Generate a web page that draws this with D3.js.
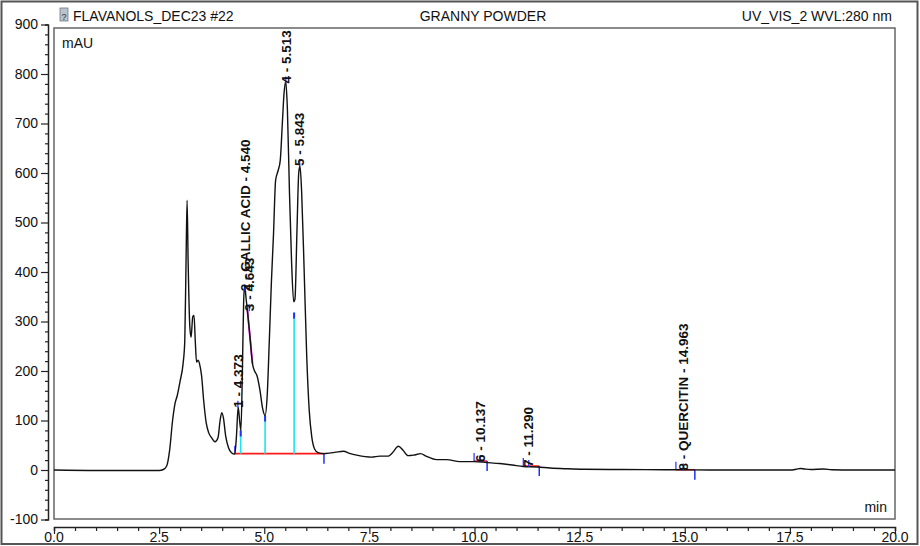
<!DOCTYPE html>
<html>
<head>
<meta charset="utf-8">
<script src="https://cdn.jsdelivr.net/npm/d3@7"></script>
<style>
  body { margin: 0; background: #fff; }
  svg { display: block; font-family: "Liberation Sans", Arial, sans-serif; }
</style>
</head>
<body>
<svg id="chart" width="920" height="546"></svg>
<script>
// chromatogram trace (time in min, signal in mAU)
var times = [0.0, 1.0, 2.0, 2.5, 2.6, 2.68, 2.75, 2.82, 2.88, 2.93, 3.0, 3.07, 3.11, 3.14, 3.165,
  3.19, 3.23, 3.26, 3.30, 3.33, 3.36, 3.39, 3.43, 3.46, 3.51, 3.56, 3.62, 3.68, 3.75, 3.83,
  3.90, 3.95, 3.99, 4.03, 4.08, 4.15, 4.22, 4.30, 4.34, 4.38, 4.42, 4.445, 4.48, 4.51, 4.535,
  4.57, 4.60, 4.66, 4.72, 4.77, 4.83, 4.90, 4.96, 5.02, 5.07, 5.12, 5.17, 5.22, 5.27, 5.33,
  5.38, 5.43, 5.47, 5.51, 5.55, 5.60, 5.65, 5.70, 5.73, 5.78, 5.82, 5.85, 5.89, 5.95, 6.01,
  6.07, 6.13, 6.20, 6.28, 6.40, 6.55, 6.70, 6.88, 7.05, 7.20, 7.40, 7.55, 7.75, 7.95, 8.05,
  8.19, 8.30, 8.42, 8.55, 8.72, 8.85, 9.1, 9.34, 9.65, 9.99, 10.3, 10.6, 10.9, 11.16, 11.5,
  11.8, 12.2, 12.6, 13.5, 14.5, 15.2, 16.0, 17.5, 17.65, 17.75, 17.85, 18.0, 18.3, 18.5, 19.0, 20.0];
var mau = [0, -1, -1, -1, 1, 8, 40, 100, 135, 150, 180, 215, 260, 420, 545,
  420, 290, 268, 310, 312, 260, 218, 222, 215, 190, 140, 95, 75, 65, 57,
  65, 100, 116, 105, 70, 45, 35, 32, 70, 127, 95, 80, 200, 340, 372,
  345, 322, 270, 215, 200, 190, 160, 125, 110, 150, 260, 380, 476, 585, 605,
  625, 700, 760, 785, 730, 560, 420, 340, 345, 490, 600, 614, 560, 400, 230,
  120, 67, 42, 35, 33, 34, 36, 38, 33, 30, 27, 26, 28, 28, 35,
  48, 40, 29, 30, 33, 28, 21, 21, 17, 17, 15, 13, 10, 7, 6,
  4, 2.5, 1.5, 1, 0.5, 0.3, 0, 0, 1.5, 3, 2, 1, 2, 0.5, 0, 0];

// peak labels
var peakNames = ['1 - 4.373', '2 - GALLIC ACID - 4.540', '3 - 4.643', '4 - 5.513',
  '5 - 5.843', '6 - 10.137', '7 - 11.290', '8 - QUERCITIN - 14.963'];
var peakTimes = [4.373, 4.540, 4.643, 5.513, 5.843, 10.137, 11.290, 14.963];
var peakHeights = [130, 365, 325, 785, 618, 20, 10, 3];

// integration baselines
var baseStart = [4.30, 9.99, 11.16, 14.79];
var baseEnd = [6.42, 10.30, 11.54, 15.24];
var baseLevel = [33, 18, 8, 0.5];
var dropTimes = [4.44, 5.02, 5.71];
var dropHeights = [80, 110, 318];
var skimTimes = [4.60, 4.72];
var skimValues = [322, 215];

var xTicks = [0, 2.5, 5, 7.5, 10, 12.5, 15, 17.5, 20];
var yTicks = [-100, 0, 100, 200, 300, 400, 500, 600, 700, 800, 900];

var svg = d3.select('#chart');
var boxLeft = 54, boxRight = 895, boxTop = 28, boxBottom = 519;

var x = d3.scaleLinear().domain([0, 20]).range([boxLeft, boxRight]);
var y = d3.scaleLinear().domain([-100, 900]).range([519.5, 24.5]);

// outer frame
svg.append('rect')
  .attr('x', 1.5).attr('y', 1.5).attr('width', 916).attr('height', 542.5)
  .attr('fill', 'none').attr('stroke', '#555').attr('stroke-width', 2);

// header
var head = svg.append('g').attr('font-size', 14).attr('fill', '#111');
head.append('rect').attr('x', 60).attr('y', 8).attr('width', 8).attr('height', 13)
  .attr('fill', '#b8c4cc').attr('stroke', '#778').attr('stroke-width', 0.8);
head.append('text').attr('x', 64).attr('y', 19.5).attr('font-size', 9).attr('text-anchor', 'middle')
  .attr('fill', '#334').text('?');
head.append('text').attr('x', 73).attr('y', 21).text('FLAVANOLS_DEC23 #22');
head.append('text').attr('x', 483).attr('y', 21).attr('text-anchor', 'middle').text('GRANNY POWDER');
head.append('text').attr('x', 892).attr('y', 21).attr('text-anchor', 'end').text('UV_VIS_2 WVL:280 nm');

// plot box
svg.append('rect')
  .attr('x', boxLeft).attr('y', boxTop).attr('width', boxRight - boxLeft).attr('height', boxBottom - boxTop)
  .attr('fill', 'none').attr('stroke', '#666').attr('stroke-width', 1.5);

svg.append('text').attr('x', 62).attr('y', 48).attr('font-size', 14).attr('fill', '#111').text('mAU');
svg.append('text').attr('x', 887).attr('y', 512).attr('font-size', 14).attr('fill', '#111')
  .attr('text-anchor', 'end').text('min');

// y axis
var yAxis = svg.append('g').attr('transform', 'translate(48,0)');
yAxis.call(d3.axisLeft(y).tickValues(d3.range(-100, 901, 20)).tickSize(3).tickFormat(''));
yAxis.call(function (g) {
  g.selectAll('.tick line').filter(function (d) { return d % 100 === 0; }).attr('x2', -7);
  g.selectAll('.tick line').attr('stroke', '#222').attr('stroke-width', 1.2);
  g.select('.domain').attr('stroke', '#222').attr('stroke-width', 1.5);
});
svg.append('g').selectAll('text').data(yTicks).enter().append('text')
  .attr('x', 38).attr('y', function (d) { return y(d); })
  .attr('dy', '0.35em').attr('text-anchor', 'end').attr('font-size', 14).attr('fill', '#111')
  .text(function (d) { return d; });

// x axis
var xAxis = svg.append('g').attr('transform', 'translate(0,527)');
xAxis.call(d3.axisBottom(x).tickValues(d3.range(0, 20.01, 0.5)).tickSize(4).tickFormat(''));
xAxis.call(function (g) {
  g.selectAll('.tick line').filter(function (d) { return Math.abs(d / 2.5 - Math.round(d / 2.5)) < 1e-6; })
    .attr('y2', 7);
  g.selectAll('.tick line').attr('stroke', '#222').attr('stroke-width', 1.2);
  g.select('.domain').attr('stroke', '#222').attr('stroke-width', 1.5);
});
svg.append('g').selectAll('text').data(xTicks).enter().append('text')
  .attr('x', function (d) { return x(d); }).attr('y', 542)
  .attr('text-anchor', 'middle').attr('font-size', 14).attr('fill', '#111')
  .text(function (d) { return d.toFixed(1); });

// clip to the box
svg.append('clipPath').attr('id', 'box').append('rect')
  .attr('x', boxLeft).attr('y', boxTop).attr('width', boxRight - boxLeft).attr('height', boxBottom - boxTop);
var plot = svg.append('g').attr('clip-path', 'url(#box)');

var trace = times.map(function (t, i) { return [t, mau[i]]; });
var line = d3.line()
  .x(function (d) { return x(d[0]); })
  .y(function (d) { return y(d[1]); })
  .curve(d3.curveMonotoneX);

// integration marks
baseStart.forEach(function (s, i) {
  plot.append('line')
    .attr('x1', x(s)).attr('x2', x(baseEnd[i]))
    .attr('y1', y(baseLevel[i])).attr('y2', y(baseLevel[i]))
    .attr('stroke', '#ff1a1a').attr('stroke-width', 1.6);
  plot.append('line')
    .attr('x1', x(baseEnd[i])).attr('x2', x(baseEnd[i]))
    .attr('y1', y(baseLevel[i])).attr('y2', y(baseLevel[i]) + 10)
    .attr('stroke', '#1f2fff').attr('stroke-width', 1.5);
  plot.append('line')
    .attr('x1', x(s)).attr('x2', x(s))
    .attr('y1', y(baseLevel[i])).attr('y2', y(baseLevel[i]) - 8)
    .attr('stroke', '#1f2fff').attr('stroke-width', 1.2);
});
dropTimes.forEach(function (t, i) {
  plot.append('line')
    .attr('x1', x(t)).attr('x2', x(t))
    .attr('y1', y(baseLevel[0])).attr('y2', y(dropHeights[i]))
    .attr('stroke', '#19e6f0').attr('stroke-width', 1.6);
  plot.append('line')
    .attr('x1', x(t)).attr('x2', x(t))
    .attr('y1', y(dropHeights[i]) + 6).attr('y2', y(dropHeights[i]))
    .attr('stroke', '#1f2fff').attr('stroke-width', 2);
});
plot.append('line')
  .attr('x1', x(skimTimes[0])).attr('x2', x(skimTimes[1]))
  .attr('y1', y(skimValues[0])).attr('y2', y(skimValues[1]))
  .attr('stroke', '#e020e0').attr('stroke-width', 1.8);

plot.append('path').datum(trace)
  .attr('d', line)
  .attr('fill', 'none').attr('stroke', '#111').attr('stroke-width', 1.4);

// peak labels, vertical
peakTimes.forEach(function (t, i) {
  plot.append('line')
    .attr('x1', x(t)).attr('x2', x(t))
    .attr('y1', y(peakHeights[i]) + 2).attr('y2', y(peakHeights[i]) - 5)
    .attr('stroke', '#1f2fff').attr('stroke-width', 1.2);
  plot.append('text')
    .attr('transform', 'translate(' + x(t) + ',' + (y(peakHeights[i]) + 2) + ') rotate(-90)')
    .attr('dy', '0.35em')
    .attr('font-size', 13.5).attr('font-weight', 'bold').attr('fill', '#111')
    .text(peakNames[i]);
});
</script>
</body>
</html>
